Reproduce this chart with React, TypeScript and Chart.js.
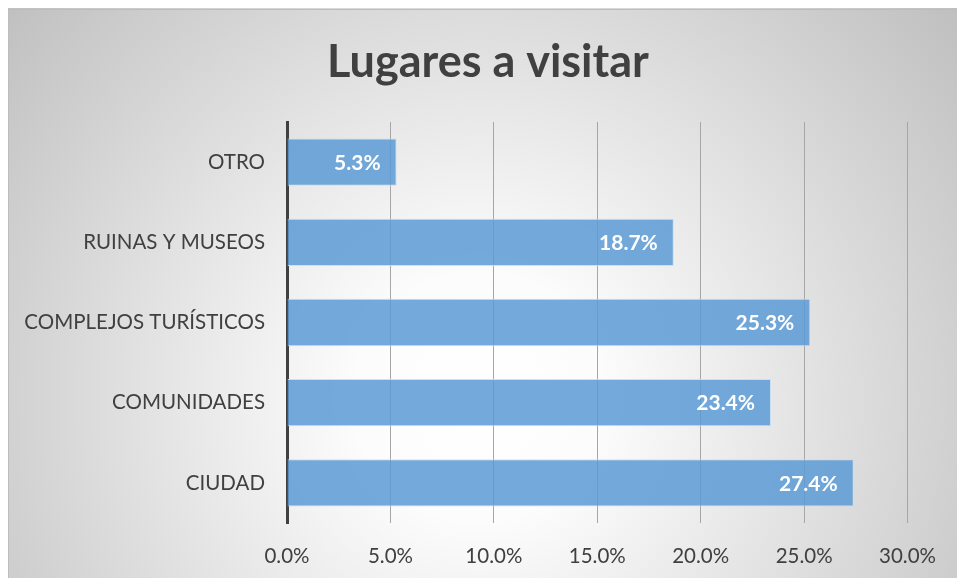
import React, { useEffect, useRef } from "react";
import { Chart, registerables } from "chart.js";

Chart.register(...registerables);

const categories = ["OTRO", "RUINAS Y MUSEOS", "COMPLEJOS TURÍSTICOS", "COMUNIDADES", "CIUDAD"];
const values = [5.3, 18.7, 25.3, 23.4, 27.4];
const tickValues = [0, 5, 10, 15, 20, 25, 30];
const titleText = "Lugares a visitar";

const FONT = "Lato, 'Open Sans', sans-serif";

const backgroundPlugin = {
  id: "bgGradient",
  beforeDraw(chart: any) {
    const { ctx, width, height } = chart;
    ctx.save();
    const g = ctx.createRadialGradient(470, 390, 0, 470, 390, 620);
    g.addColorStop(0, "#ffffff");
    g.addColorStop(0.2, "#fcfcfc");
    g.addColorStop(1, "#bfbfbf");
    ctx.fillStyle = g;
    ctx.fillRect(0, 0, width, height);
    ctx.strokeStyle = "#bdbdbd";
    ctx.lineWidth = 1;
    ctx.strokeRect(0.5, 1.5, width, height);
    // title
    ctx.fillStyle = "#404040";
    ctx.font = `bold 45px ${FONT}`;
    ctx.textAlign = "center";
    ctx.textBaseline = "middle";
    ctx.fillText(titleText, 480, 54);
    ctx.restore();
  },
};

const labelPlugin = {
  id: "barLabels",
  afterDatasetsDraw(chart: any) {
    const { ctx } = chart;
    const meta = chart.getDatasetMeta(0);
    ctx.save();
    ctx.fillStyle = "#ffffff";
    ctx.font = `bold 21px ${FONT}`;
    ctx.textAlign = "right";
    ctx.textBaseline = "middle";
    meta.data.forEach((bar: any, i: number) => {
      ctx.fillText(values[i].toFixed(1) + "%", bar.x - 16, bar.y + 1);
    });
    ctx.restore();
  },
};

export default function App() {
  const ref = useRef<HTMLCanvasElement>(null);
  useEffect(() => {
    if (!ref.current) return;
    const chart = new Chart(ref.current, {
      type: "bar",
      data: {
        labels: categories,
        datasets: [
          {
            data: values,
            backgroundColor: "rgba(91,155,213,0.85)",
            borderColor: "rgba(200,222,242,0.9)",
            borderWidth: 1,
            categoryPercentage: 1,
            barPercentage: 0.59,
          },
        ],
      },
      options: {
        indexAxis: "y",
        animation: false,
        responsive: false,
        layout: { padding: { left: 0, right: 48, top: 114, bottom: 0 } },
        plugins: {
          legend: { display: false },
          tooltip: { enabled: false },
          title: { display: false },
        },
        scales: {
          x: {
            min: 0,
            max: 30,
            afterBuildTicks(scale: any) {
              scale.ticks = tickValues.map((v) => ({ value: v }));
            },
            afterFit(scale: any) {
              scale.height = 55;
            },
            ticks: {
              color: "#404040",
              font: { family: FONT, size: 20.5 },
              padding: 21,
              callback: (v: any) => Number(v).toFixed(1) + "%",
            },
            grid: { color: "#a6a6a6", lineWidth: 1, drawTicks: false },
            border: { display: false },
          },
          y: {
            afterFit(scale: any) {
              scale.width = 279;
            },
            ticks: {
              color: "#404040",
              font: { family: FONT, size: 20.5 },
              padding: 22,
            },
            grid: { display: false, drawTicks: false },
            border: { display: true, color: "#404040", width: 3 },
          },
        },
      },
      plugins: [backgroundPlugin, labelPlugin],
    });
    return () => chart.destroy();
  }, []);
  return (
    <div style={{ position: "fixed", left: 8, top: 8, width: 949, height: 570 }}>
      <canvas ref={ref} width={949} height={570} style={{ width: 949, height: 570, display: "block" }} />
    </div>
  );
}
